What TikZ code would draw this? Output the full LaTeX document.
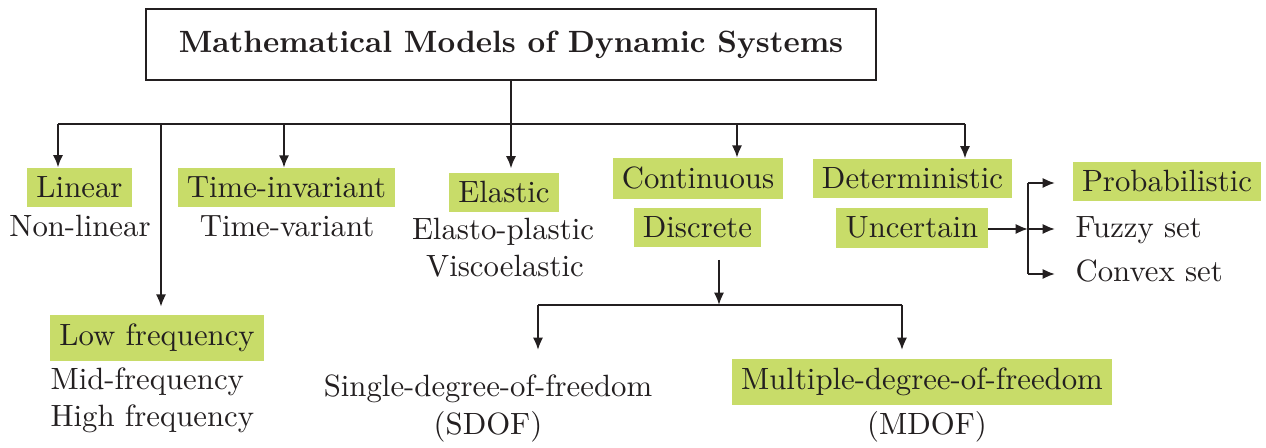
\documentclass[tikz,border=0pt]{standalone}
\usetikzlibrary{arrows.meta}
\definecolor{hlgreen}{RGB}{200,220,105}
\definecolor{ink}{RGB}{35,31,32}
\tikzset{
  base/.style={font=\fontsize{10}{12}\selectfont, text=ink},
  hl/.style={base, fill=hlgreen, inner xsep=3pt, inner ysep=2.9pt, anchor=base},
  txt/.style={base, inner sep=0pt, anchor=base},
  txtl/.style={base, inner sep=0pt, anchor=base west},
  ln/.style={draw=ink, line width=0.65pt},
  arr/.style={ln, -{Latex[length=4pt,width=3.3pt]}},
  titlebox/.style={draw=ink, line width=0.65pt, minimum width=237pt, minimum height=23pt,
    font=\fontsize{10}{12}\selectfont\bfseries, text=ink}
}
\begin{document}
\begin{tikzpicture}[x=0.325pt, y=-0.325pt]
\useasboundingbox (0,0) rectangle (1266,448);

% root
\node[titlebox] (root) at (511,44.5) {Mathematical Models of Dynamic Systems};

% first level
\node[hl] (linear) at (79.5,198) {Linear};
\node[txt] (nonlinear) at (80,237) {Non-linear};
\node[hl] (timeinv) at (286.5,198) {Time-invariant};
\node[txt] (timevar) at (287,237) {Time-variant};
\node[hl] (elastic) at (504,203) {Elastic};
\node[txt] (elastoplastic) at (503,240) {Elasto-plastic};
\node[txt] (visco) at (505,277) {Viscoelastic};
\node[hl] (continuous) at (698,189) {Continuous};
\node[hl] (discrete) at (697.5,238) {Discrete};
\node[hl] (determ) at (912.5,189) {Deterministic};
\node[hl] (uncertain) at (912,238) {Uncertain};
\node[hl] (lowfreq) at (157,346) {Low frequency};
\node[txtl] (midfreq) at (50,390) {Mid-frequency};
\node[txtl] (highfreq) at (50,427) {High frequency};

% uncertainty models
\node[hl] (prob) at (1167,192) {Probabilistic};
\node[txtl] (fuzzy) at (1075,238) {Fuzzy set};
\node[txtl] (convex) at (1075,282) {Convex set};

% discrete models
\node[txt] (sdof) at (488,397) {Single-degree-of-freedom};
\node[txt] (sdofabbr) at (488,435) {(SDOF)};
\node[hl] (mdof) at (922,390) {Multiple-degree-of-freedom};
\node[txt] (mdofabbr) at (927,435) {(MDOF)};

% main distribution bar
\coordinate (bL) at (58,124);
\coordinate (bF) at (161,124);
\coordinate (bT) at (284,124);
\coordinate (bE) at (511,124);
\coordinate (bC) at (737,124);
\coordinate (bD) at (965,124);
\draw[ln] (bL) -- (bD);
\draw[arr, shorten >=1.2pt] (root.south) -- (root.south |- elastic.north);
\draw[arr] (bL) -- (bL |- linear.north);
\draw[arr, shorten >=2.6pt] (bF) -- (bF |- lowfreq.north);
\draw[arr] (bT) -- (bT |- timeinv.north);
\draw[arr] (bC) -- (bC |- continuous.north);
\draw[arr] (bD) -- (bD |- determ.north);

% uncertain branch
\coordinate (uJ) at (1028,229);
\coordinate (uTop) at (1028,183);
\coordinate (uBot) at (1028,274);
\coordinate (uP) at (1055,183);
\coordinate (uF) at (1055,229);
\coordinate (uC) at (1055,274);
\draw[arr] (uncertain.east |- uJ) -- (uJ);
\draw[ln] (uTop) -- (uBot);
\draw[arr] (uTop) -- (uP);
\draw[arr] (uJ) -- (uF);
\draw[arr] (uBot) -- (uC);

% discrete branch
\coordinate (dTop) at (719,260);
\coordinate (dJ) at (719,305);
\coordinate (dL) at (538,305);
\coordinate (dR) at (902,305);
\coordinate (dLend) at (538,350);
\coordinate (dRend) at (902,350);
\draw[arr] (dTop) -- (dJ);
\draw[ln] (dL) -- (dR);
\draw[arr] (dL) -- (dLend);
\draw[arr] (dR) -- (dRend);
\end{tikzpicture}
\end{document}
